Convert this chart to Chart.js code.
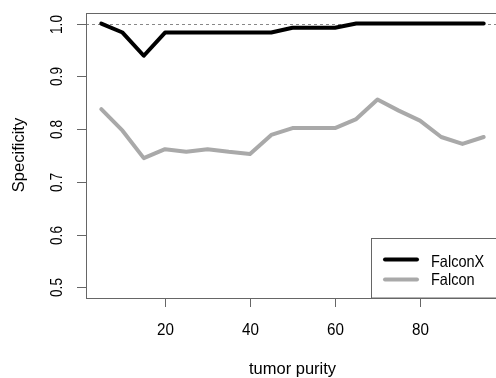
<!DOCTYPE html>
<html><head><meta charset="utf-8">
<script src="https://cdn.jsdelivr.net/npm/chart.js@4/dist/chart.umd.min.js"></script>
<style>html,body{margin:0;padding:0;background:#fff;overflow:hidden;width:496px;height:378px}#wrap{width:500px;height:378px;position:relative}</style>
</head><body><div id="wrap"><canvas id="c" width="500" height="378"></canvas></div>
<script>
const purity = [5,10,15,20,25,30,35,40,45,50,55,60,65,70,75,80,85,90,95];
const falconX = [1.0,0.983,0.939,0.983,0.983,0.983,0.983,0.983,0.983,0.992,0.992,0.992,1.0,1.0,1.0,1.0,1.0,1.0,1.0];
const falcon = [0.838,0.797,0.745,0.762,0.757,0.762,0.757,0.753,0.789,0.802,0.802,0.802,0.819,0.856,0.835,0.816,0.785,0.772,0.785];
const xTicks = [20,40,60,80];
const yTicks = [0.5,0.6,0.7,0.8,0.9,1.0];
const yTickLabels = ['0.5','0.6','0.7','0.8','0.9','1.0'];
const seriesNames = ['FalconX','Falcon'];
const xTitle = 'tumor purity';
const yTitle = 'Specificity';

const FONT = '"Liberation Sans", Arial, Helvetica, sans-serif';
const axisGrey = '#666666';

function txt(ctx, s, x, y, size, sx, align, rot) {
  ctx.save();
  ctx.translate(x, y);
  if (rot) ctx.rotate(rot);
  ctx.scale(sx, 1);
  ctx.font = size + 'px ' + FONT;
  ctx.textAlign = align;
  ctx.textBaseline = 'alphabetic';
  ctx.fillStyle = '#000';
  ctx.fillText(s, 0, 0);
  ctx.restore();
}

const deco = {
  id: 'deco',
  beforeDatasetsDraw(chart) {
    const ctx = chart.ctx, y = chart.scales.y, a = chart.chartArea;
    ctx.save();
    ctx.strokeStyle = '#888';
    ctx.lineWidth = 1;
    ctx.setLineDash([3,3]);
    const py = Math.round(y.getPixelForValue(1.0)) + 0.5;
    ctx.beginPath(); ctx.moveTo(a.left, py); ctx.lineTo(a.right, py); ctx.stroke();
    ctx.restore();
  },
  afterDatasetsDraw(chart) {
    const ctx = chart.ctx, x = chart.scales.x, y = chart.scales.y, a = chart.chartArea;
    ctx.save();
    ctx.strokeStyle = axisGrey; ctx.lineWidth = 1;
    ctx.strokeRect(Math.round(a.left)+0.5, Math.round(a.top)+0.5, Math.round(a.right-a.left), Math.round(a.bottom-a.top));
    xTicks.forEach(v => {
      const px = Math.round(x.getPixelForValue(v)) + 0.5;
      ctx.beginPath(); ctx.moveTo(px, a.bottom); ctx.lineTo(px, a.bottom + 9); ctx.stroke();
      txt(ctx, String(v), px, 334.5, 16, 0.95, 'center', 0);
    });
    yTicks.forEach((v, i) => {
      const py = Math.round(y.getPixelForValue(v)) + 0.5;
      ctx.beginPath(); ctx.moveTo(a.left, py); ctx.lineTo(a.left - 9, py); ctx.stroke();
      txt(ctx, yTickLabels[i], 61.5, py, 16, 0.85, 'center', -Math.PI/2);
    });
    txt(ctx, xTitle, (a.left + a.right)/2, 374, 16.5, 1, 'center', 0);
    txt(ctx, yTitle, 24, 155, 16.5, 1, 'center', -Math.PI/2);
    // legend
    const lx = 371.5, ly = 238.5;
    ctx.fillStyle = '#fff';
    ctx.fillRect(lx, ly, a.right - lx, a.bottom - ly);
    ctx.strokeStyle = axisGrey;
    ctx.strokeRect(lx, ly, a.right - lx + 2, a.bottom - ly);
    const ds = chart.data.datasets;
    [[259.5, 267], [279.5, 285]].forEach((p, i) => {
      ctx.strokeStyle = ds[i].borderColor; ctx.lineWidth = 4; ctx.lineCap = 'round';
      ctx.beginPath(); ctx.moveTo(385, p[0]); ctx.lineTo(417, p[0]); ctx.stroke();
      txt(ctx, seriesNames[i], 431, p[1], 16.5, 0.88, 'left', 0);
    });
    ctx.restore();
  }
};

new Chart(document.getElementById('c'), {
  type: 'line',
  data: {
    datasets: [
      { label: seriesNames[0], data: purity.map((p,i)=>({x:p, y:falconX[i]})), borderColor: '#000000', borderWidth: 4, borderCapStyle: 'round', borderJoinStyle: 'round', pointRadius: 0, tension: 0, fill: false },
      { label: seriesNames[1], data: purity.map((p,i)=>({x:p, y:falcon[i]})), borderColor: '#a9a9a9', borderWidth: 4, borderCapStyle: 'round', borderJoinStyle: 'round', pointRadius: 0, tension: 0, fill: false }
    ]
  },
  options: {
    responsive: false, animation: false,
    layout: { padding: { left: 86, top: 13, right: 1, bottom: 80 } },
    plugins: { legend: { display: false }, tooltip: { enabled: false } },
    scales: {
      x: { type: 'linear', display: false, min: 1.4, max: 98.6 },
      y: { type: 'linear', display: false, min: 0.48, max: 1.02 }
    }
  },
  plugins: [deco]
});
</script></body></html>
